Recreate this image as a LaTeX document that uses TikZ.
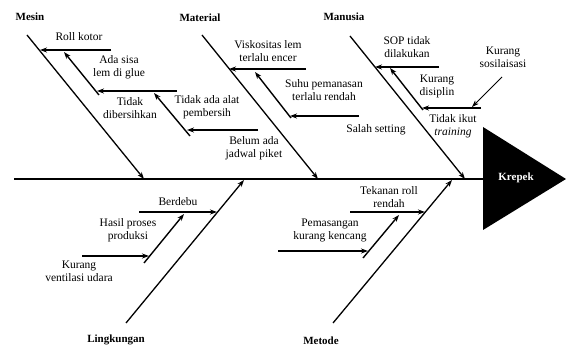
\documentclass[tikz,border=0pt]{standalone}
\usepackage{fontspec}
\setmainfont{Liberation Serif}
\usetikzlibrary{arrows.meta}

\begin{document}
\begin{tikzpicture}[x=1pt, y=-1pt, >={Stealth[length=7pt,width=5pt]},
  bone/.style={line width=1.3pt, ->},
  twig/.style={line width=1.4pt, ->},
  cause/.style={align=center, inner sep=1pt, font=\fontsize{11.5}{13}\selectfont},
  group/.style={inner sep=1pt, font=\fontsize{11}{13}\selectfont\bfseries}]
  \useasboundingbox (0,0) rectangle (571,347);
  % spine and head
  \coordinate (tail) at (14,179);
  \coordinate (headtop) at (483,127);
  \coordinate (headtip) at (566,179);
  \coordinate (headbot) at (483,230);
  \coordinate (headmid) at (483,179);
  \draw[line width=2.4pt] (tail) -- (headmid);
  \fill (headtop) -- (headtip) -- (headbot) -- cycle;
  \node[group, text=white] (krepek) at (516,178) {Krepek};
  % Mesin
  \node[group] (mesin) at (30,17) {Mesin};
  \coordinate (m0) at (27,35);   \coordinate (m1) at (144,179);
  \coordinate (rk0) at (111,50); \coordinate (rk1) at (40,50);
  \coordinate (as0) at (99,95);  \coordinate (as1) at (64,52);
  \coordinate (td0) at (177,91); \coordinate (td1) at (97,91);
  \coordinate (ta0) at (190,136); \coordinate (ta1) at (154,93);
  \coordinate (ba0) at (258,130); \coordinate (ba1) at (187,130);
  \draw[bone] (m0) -- (m1);
  \draw[twig] (rk0) -- (rk1);
  \draw[twig] (as0) -- (as1);
  \draw[twig] (td0) -- (td1);
  \draw[twig] (ta0) -- (ta1);
  \draw[twig] (ba0) -- (ba1);
  \node[cause] (rollkotor) at (79,37) {Roll kotor};
  \node[cause] (adasisa) at (119,67) {Ada sisa\\lem di glue};
  \node[cause] (tidakbersih) at (130,108) {Tidak\\dibersihkan};
  \node[cause] (tidakalat) at (207,107) {Tidak ada alat\\pembersih};
  \node[cause] (belumpiket) at (254,148) {Belum ada\\jadwal piket};
  % Material
  \node[group] (material) at (200,18) {Material};
  \coordinate (ma0) at (202,35);  \coordinate (ma1) at (318,179);
  \coordinate (vl0) at (306,69);  \coordinate (vl1) at (229,69);
  \coordinate (sp0) at (291,118); \coordinate (sp1) at (255,72);
  \coordinate (ss0) at (359,116); \coordinate (ss1) at (290,116);
  \draw[bone] (ma0) -- (ma1);
  \draw[twig] (vl0) -- (vl1);
  \draw[twig] (sp0) -- (sp1);
  \draw[twig] (ss0) -- (ss1);
  \node[cause] (viskositas) at (268,51) {Viskositas lem\\terlalu encer};
  \node[cause] (suhu) at (324,90) {Suhu pemanasan\\terlalu rendah};
  \node[cause] (salahset) at (376,130) {Salah setting};
  % Manusia
  \node[group] (manusia) at (344,17) {Manusia};
  \coordinate (mu0) at (350,36);  \coordinate (mu1) at (465,179);
  \coordinate (so0) at (439,67);  \coordinate (so1) at (375,67);
  \coordinate (kd0) at (423,110); \coordinate (kd1) at (390,68);
  \coordinate (ti0) at (481,108); \coordinate (ti1) at (422,108);
  \coordinate (ks0) at (502,77);  \coordinate (ks1) at (472,107);
  \draw[bone] (mu0) -- (mu1);
  \draw[twig] (so0) -- (so1);
  \draw[twig] (kd0) -- (kd1);
  \draw[twig] (ti0) -- (ti1);
  \draw[line width=1pt, ->] (ks0) -- (ks1);
  \node[cause] (sop) at (407,47) {SOP tidak\\dilakukan};
  \node[cause] (disiplin) at (437,86) {Kurang\\disiplin};
  \node[cause] (training) at (453,126) {Tidak ikut\\\textit{training}};
  \node[cause] (sosial) at (503,57) {Kurang\\sosilaisasi};
  % Lingkungan
  \node[group] (lingkungan) at (116,340) {Lingkungan};
  \coordinate (li0) at (126,323); \coordinate (li1) at (244,180);
  \coordinate (bd0) at (139,212); \coordinate (bd1) at (217,212);
  \coordinate (hp0) at (144,263); \coordinate (hp1) at (184,214);
  \coordinate (kv0) at (82,256);  \coordinate (kv1) at (149,256);
  \draw[bone] (li0) -- (li1);
  \draw[twig] (bd0) -- (bd1);
  \draw[twig] (hp0) -- (hp1);
  \draw[twig] (kv0) -- (kv1);
  \node[cause] (berdebu) at (178,202) {Berdebu};
  \node[cause] (hasilproses) at (128,230) {Hasil proses\\produksi};
  \node[cause] (ventilasi) at (79,271) {Kurang\\ventilasi udara};
  % Metode
  \node[group] (metode) at (321,341) {Metode};
  \coordinate (me0) at (333,323); \coordinate (me1) at (452,180);
  \coordinate (tr0) at (350,212); \coordinate (tr1) at (425,212);
  \coordinate (pk0) at (363,258); \coordinate (pk1) at (399,215);
  \coordinate (hz0) at (278,251); \coordinate (hz1) at (368,251);
  \draw[bone] (me0) -- (me1);
  \draw[twig] (tr0) -- (tr1);
  \draw[twig] (pk0) -- (pk1);
  \draw[twig] (hz0) -- (hz1);
  \node[cause] (tekanan) at (389,197) {Tekanan roll\\rendah};
  \node[cause] (pemasangan) at (330,230) {Pemasangan\\kurang kencang};
\end{tikzpicture}
\end{document}
